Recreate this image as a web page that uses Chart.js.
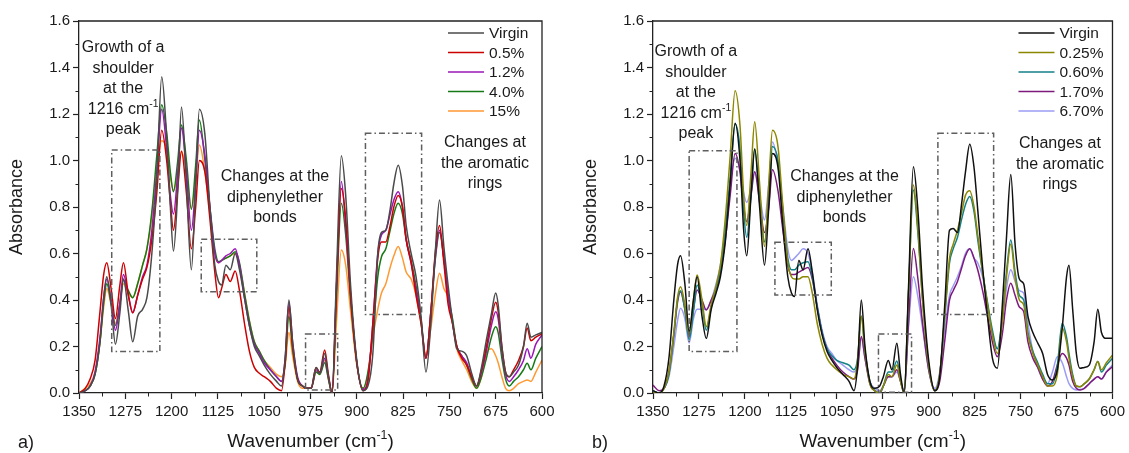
<!DOCTYPE html>
<html>
<head>
<meta charset="utf-8">
<script src="https://cdn.jsdelivr.net/npm/chart.js@4.4.1/dist/chart.umd.min.js"></script>
<style>
    html, body { margin: 0; padding: 0; background: #fff; }
    #wrap { position: relative; width: 1129px; height: 453px; overflow: hidden; }
    canvas { position: absolute; top: 0; }
    #chartA { left: 0; }
    #chartB { left: 565px; }
</style>
</head>
<body>
<div id="wrap">
    <canvas id="chartA" width="565" height="453"></canvas>
    <canvas id="chartB" width="564" height="453"></canvas>
</div>
<script>
// ── Data ──────────────────────────────────────────────────────────────────────
const WAVENUMBERS = [
    1350, 1340, 1332, 1324, 1316, 1310, 1305, 1298, 1291, 1284,
    1278, 1270, 1263, 1255, 1247, 1240, 1232, 1224, 1216, 1208,
    1202, 1197, 1190, 1184, 1176, 1168, 1161, 1155, 1146, 1138,
    1130, 1124, 1119, 1112, 1105, 1097, 1090, 1082, 1074, 1066,
    1058, 1050, 1040, 1030, 1022, 1016, 1010, 1004, 996, 988,
    980, 974, 966, 960, 952, 946, 940, 933, 925, 918,
    910, 900, 890, 882, 874, 866, 860, 853, 846, 840,
    833, 826, 820, 812, 804, 796, 788, 780, 773, 766,
    759, 752, 745, 738, 730, 722, 714, 706, 698, 690,
    682, 675, 671, 665, 659, 653, 646, 638, 630, 624,
    618, 610, 600,
];
const X_TICKS = [1350, 1275, 1200, 1125, 1050, 975, 900, 825, 750, 675, 600];
const Y_TICKS = [0, 0.2, 0.4, 0.6, 0.8, 1.0, 1.2, 1.4, 1.6];

// Panel a)
const A_LABELS = ['Virgin', '0.5%', '1.2%', '4.0%', '15%'];
const A_VIRGIN = [
    0.00, 0.01, 0.03, 0.08, 0.22, 0.41, 0.50, 0.38, 0.21, 0.34,
    0.49, 0.35, 0.22, 0.33, 0.36, 0.41, 0.60, 0.92, 1.36, 1.10,
    0.80, 0.61, 0.87, 1.23, 0.90, 0.53, 0.90, 1.22, 1.11, 0.80,
    0.55, 0.48, 0.465, 0.55, 0.53, 0.60, 0.53, 0.41, 0.29, 0.20,
    0.16, 0.12, 0.08, 0.05, 0.03, 0.15, 0.40, 0.22, 0.06, 0.03,
    0.02, 0.02, 0.11, 0.085, 0.17, 0.07, 0.00, 0.50, 1.02, 0.85,
    0.46, 0.14, 0.01, 0.03, 0.17, 0.60, 0.69, 0.70, 0.79, 0.90,
    0.98, 0.89, 0.72, 0.60, 0.50, 0.33, 0.09, 0.30, 0.60, 0.83,
    0.63, 0.46, 0.31, 0.19, 0.18, 0.16, 0.085, 0.03, 0.11, 0.23,
    0.34, 0.43, 0.38, 0.20, 0.09, 0.07, 0.09, 0.12, 0.20, 0.30,
    0.24, 0.25, 0.26,
];
const A_05 = [
    0.00, 0.02, 0.06, 0.14, 0.35, 0.51, 0.56, 0.45, 0.32, 0.46,
    0.56, 0.42, 0.345, 0.42, 0.49, 0.54, 0.66, 0.86, 1.13, 1.00,
    0.82, 0.70, 0.88, 1.04, 0.86, 0.62, 0.80, 1.00, 0.95, 0.75,
    0.52, 0.41, 0.45, 0.51, 0.48, 0.525, 0.44, 0.30, 0.18, 0.11,
    0.085, 0.07, 0.05, 0.02, 0.01, 0.13, 0.37, 0.20, 0.06, 0.03,
    0.02, 0.02, 0.11, 0.09, 0.185, 0.08, 0.00, 0.45, 0.88, 0.75,
    0.42, 0.13, 0.01, 0.05, 0.30, 0.58, 0.65, 0.65, 0.72, 0.80,
    0.85, 0.80, 0.66, 0.56, 0.42, 0.30, 0.15, 0.35, 0.60, 0.72,
    0.56, 0.38, 0.30, 0.20, 0.15, 0.12, 0.07, 0.03, 0.10, 0.20,
    0.32, 0.39, 0.35, 0.20, 0.09, 0.07, 0.10, 0.14, 0.20, 0.28,
    0.225, 0.24, 0.255,
];
const A_12 = [
    0.00, 0.01, 0.03, 0.09, 0.24, 0.41, 0.49, 0.40, 0.27, 0.38,
    0.51, 0.42, 0.345, 0.42, 0.50, 0.55, 0.70, 0.95, 1.22, 1.05,
    0.85, 0.77, 0.95, 1.14, 0.95, 0.70, 0.90, 1.13, 1.02, 0.80,
    0.60, 0.56, 0.57, 0.59, 0.60, 0.62, 0.55, 0.41, 0.29, 0.21,
    0.17, 0.13, 0.10, 0.07, 0.05, 0.15, 0.39, 0.22, 0.07, 0.03,
    0.02, 0.02, 0.10, 0.085, 0.15, 0.07, 0.00, 0.45, 0.91, 0.72,
    0.42, 0.13, 0.015, 0.06, 0.30, 0.60, 0.68, 0.70, 0.77, 0.83,
    0.866, 0.80, 0.66, 0.56, 0.44, 0.31, 0.15, 0.35, 0.58, 0.70,
    0.58, 0.42, 0.30, 0.20, 0.16, 0.13, 0.07, 0.03, 0.09, 0.18,
    0.29, 0.35, 0.32, 0.18, 0.08, 0.05, 0.07, 0.10, 0.14, 0.19,
    0.15, 0.21, 0.25,
];
const A_40 = [
    0.00, 0.01, 0.03, 0.08, 0.22, 0.39, 0.47, 0.39, 0.29, 0.38,
    0.485, 0.44, 0.41, 0.47, 0.55, 0.62, 0.78, 1.02, 1.24, 1.12,
    0.95, 0.866, 1.00, 1.153, 1.00, 0.79, 0.98, 1.174, 1.00, 0.80,
    0.62, 0.565, 0.57, 0.58, 0.59, 0.608, 0.56, 0.43, 0.31, 0.22,
    0.18, 0.14, 0.10, 0.07, 0.05, 0.13, 0.33, 0.19, 0.06, 0.03,
    0.02, 0.02, 0.09, 0.08, 0.13, 0.06, 0.00, 0.40, 0.816, 0.68,
    0.40, 0.13, 0.02, 0.09, 0.26, 0.50, 0.586, 0.62, 0.70, 0.77,
    0.816, 0.77, 0.66, 0.57, 0.46, 0.32, 0.15, 0.35, 0.57, 0.69,
    0.58, 0.42, 0.32, 0.20, 0.16, 0.12, 0.06, 0.02, 0.07, 0.15,
    0.24, 0.285, 0.26, 0.15, 0.06, 0.03, 0.05, 0.07, 0.10, 0.128,
    0.10, 0.15, 0.20,
];
const A_15 = [
    0.00, 0.02, 0.04, 0.09, 0.22, 0.37, 0.45, 0.38, 0.30, 0.38,
    0.47, 0.43, 0.41, 0.47, 0.55, 0.62, 0.76, 0.96, 1.085, 1.05,
    0.93, 0.87, 0.95, 1.04, 0.95, 0.795, 0.92, 1.067, 0.95, 0.78,
    0.60, 0.56, 0.57, 0.58, 0.59, 0.60, 0.55, 0.43, 0.31, 0.22,
    0.18, 0.14, 0.11, 0.08, 0.07, 0.12, 0.26, 0.16, 0.05, 0.02,
    0.02, 0.02, 0.09, 0.08, 0.14, 0.06, 0.00, 0.30, 0.615, 0.55,
    0.35, 0.12, 0.02, 0.08, 0.24, 0.36, 0.43, 0.47, 0.54, 0.59,
    0.63, 0.58, 0.52, 0.49, 0.42, 0.30, 0.16, 0.28, 0.42, 0.515,
    0.45, 0.41, 0.30, 0.19, 0.14, 0.10, 0.05, 0.02, 0.07, 0.17,
    0.19, 0.16, 0.13, 0.07, 0.02, 0.01, 0.02, 0.04, 0.05, 0.056,
    0.05, 0.09, 0.142,
];

// Panel b)
const B_LABELS = ['Virgin', '0.25%', '0.60%', '1.70%', '6.70%'];
const B_VIRGIN = [
    0.01, 0.00, 0.03, 0.15, 0.40, 0.55, 0.59, 0.47, 0.265, 0.40,
    0.50, 0.33, 0.235, 0.36, 0.43, 0.50, 0.65, 0.90, 1.16, 1.00,
    0.70, 0.59, 0.85, 1.05, 0.80, 0.55, 0.80, 1.03, 0.97, 0.72,
    0.50, 0.43, 0.415, 0.57, 0.53, 0.62, 0.52, 0.36, 0.25, 0.18,
    0.14, 0.11, 0.08, 0.05, 0.01, 0.12, 0.40, 0.20, 0.05, 0.02,
    0.03, 0.07, 0.14, 0.10, 0.214, 0.08, 0.00, 0.45, 0.973, 0.80,
    0.45, 0.14, 0.01, 0.07, 0.37, 0.70, 0.708, 0.69, 0.82, 0.95,
    1.07, 0.97, 0.79, 0.54, 0.33, 0.15, 0.106, 0.37, 0.67, 0.94,
    0.64, 0.49, 0.47, 0.33, 0.26, 0.215, 0.17, 0.08, 0.056, 0.10,
    0.28, 0.50, 0.55, 0.36, 0.17, 0.106, 0.11, 0.12, 0.22, 0.36,
    0.26, 0.235, 0.235,
];
const B_025 = [
    0.00, 0.00, 0.02, 0.09, 0.26, 0.41, 0.457, 0.38, 0.25, 0.40,
    0.507, 0.40, 0.285, 0.38, 0.46, 0.55, 0.75, 1.02, 1.30, 1.15,
    0.85, 0.72, 0.95, 1.167, 0.90, 0.63, 0.90, 1.13, 1.06, 0.80,
    0.56, 0.50, 0.49, 0.49, 0.50, 0.50, 0.43, 0.30, 0.21, 0.15,
    0.12, 0.10, 0.08, 0.07, 0.06, 0.14, 0.33, 0.18, 0.04, 0.01,
    0.00, 0.03, 0.08, 0.07, 0.12, 0.05, 0.00, 0.42, 0.895, 0.72,
    0.40, 0.12, 0.01, 0.08, 0.33, 0.58, 0.64, 0.70, 0.78, 0.85,
    0.87, 0.80, 0.68, 0.52, 0.38, 0.25, 0.17, 0.30, 0.50, 0.64,
    0.50, 0.40, 0.38, 0.25, 0.17, 0.12, 0.07, 0.03, 0.03, 0.08,
    0.28, 0.22, 0.15, 0.07, 0.03, 0.027, 0.04, 0.06, 0.10, 0.135,
    0.10, 0.13, 0.163,
];
const B_060 = [
    0.01, 0.00, 0.02, 0.08, 0.25, 0.40, 0.44, 0.36, 0.23, 0.35,
    0.465, 0.38, 0.27, 0.37, 0.45, 0.53, 0.70, 0.93, 1.157, 1.05,
    0.78, 0.67, 0.85, 1.05, 0.85, 0.65, 0.85, 1.06, 1.00, 0.78,
    0.58, 0.53, 0.53, 0.55, 0.56, 0.565, 0.50, 0.37, 0.26, 0.19,
    0.16, 0.14, 0.13, 0.12, 0.10, 0.15, 0.33, 0.18, 0.05, 0.01,
    0.00, 0.03, 0.09, 0.09, 0.138, 0.06, 0.00, 0.42, 0.873, 0.70,
    0.40, 0.12, 0.01, 0.08, 0.32, 0.56, 0.62, 0.67, 0.75, 0.81,
    0.845, 0.78, 0.66, 0.52, 0.39, 0.27, 0.19, 0.32, 0.52, 0.658,
    0.52, 0.42, 0.40, 0.26, 0.18, 0.13, 0.08, 0.04, 0.04, 0.12,
    0.30, 0.24, 0.17, 0.08, 0.03, 0.027, 0.04, 0.06, 0.10, 0.135,
    0.09, 0.12, 0.15,
];
const B_170 = [
    0.034, 0.01, 0.02, 0.09, 0.25, 0.39, 0.436, 0.36, 0.25, 0.36,
    0.443, 0.40, 0.357, 0.40, 0.45, 0.52, 0.66, 0.85, 1.03, 0.95,
    0.80, 0.737, 0.85, 0.952, 0.82, 0.69, 0.80, 0.96, 0.87, 0.70,
    0.55, 0.51, 0.51, 0.52, 0.53, 0.54, 0.49, 0.37, 0.26, 0.19,
    0.15, 0.12, 0.09, 0.07, 0.06, 0.10, 0.243, 0.15, 0.04, 0.01,
    0.00, 0.03, 0.07, 0.07, 0.10, 0.05, 0.00, 0.30, 0.622, 0.50,
    0.30, 0.10, 0.01, 0.05, 0.22, 0.40, 0.44, 0.48, 0.54, 0.59,
    0.62, 0.58, 0.53, 0.44, 0.33, 0.22, 0.156, 0.25, 0.40, 0.472,
    0.42, 0.37, 0.35, 0.22, 0.15, 0.11, 0.06, 0.03, 0.05, 0.12,
    0.17, 0.15, 0.12, 0.05, 0.02, 0.013, 0.02, 0.04, 0.06, 0.07,
    0.06, 0.09, 0.113,
];
const B_670 = [
    0.01, 0.00, 0.02, 0.07, 0.20, 0.31, 0.364, 0.32, 0.215, 0.32,
    0.36, 0.36, 0.36, 0.40, 0.47, 0.55, 0.70, 0.90, 1.01, 0.96,
    0.86, 0.82, 0.88, 0.952, 0.85, 0.744, 0.90, 1.08, 0.98, 0.80,
    0.62, 0.57, 0.58, 0.60, 0.62, 0.60, 0.52, 0.38, 0.27, 0.20,
    0.17, 0.14, 0.12, 0.10, 0.09, 0.12, 0.24, 0.15, 0.05, 0.02,
    0.01, 0.03, 0.07, 0.07, 0.09, 0.05, 0.01, 0.28, 0.50, 0.42,
    0.28, 0.10, 0.02, 0.09, 0.27, 0.42, 0.46, 0.50, 0.55, 0.60,
    0.62, 0.58, 0.56, 0.50, 0.38, 0.25, 0.19, 0.30, 0.45, 0.53,
    0.48, 0.44, 0.43, 0.30, 0.18, 0.11, 0.06, 0.04, 0.09, 0.156,
    0.13, 0.07, 0.04, 0.02, 0.013, 0.015, 0.02, 0.04, 0.06, 0.07,
    0.06, 0.09, 0.12,
];

// ── Styles & annotations ─────────────────────────────────────────────────────
const FONT = '"Liberation Sans", Arial, sans-serif';
const TEXT = '#1a1a1a';
const AXIS = '#222';
const A_COLORS = ['#4a4a4a', '#cc0000', '#9a16b8', '#157a15', '#ff9933'];
const B_COLORS = ['#111111', '#8c8600', '#138088', '#7e1a7e', '#9b9cf5'];

// dash-dot boxes: [x from, x to, y from, y to] in data units
const A_BOXES = [[1297, 1219, 0.178, 1.045], [1152, 1062, 0.436, 0.661], [983, 931, 0.013, 0.254], [886, 795, 0.338, 1.117]];
const B_BOXES = [[1291, 1213, 0.178, 1.042], [1151, 1059, 0.421, 0.648], [982, 928, 0.003, 0.254], [885, 794, 0.338, 1.117]];

// notes: centre wavenumber, absorbance of first line, lines ('^' marks a superscript part)
const A_NOTES = [
    { x: 1278.5, y: 1.484, lines: [['Growth of a'], ['shoulder'], ['at the'], ['1216 cm', '^-1'], ['peak']] },
    { x: 1032.5, y: 0.929, lines: [['Changes at the'], ['diphenylether'], ['bonds']] },
    { x: 692.3, y: 1.075, lines: [['Changes at'], ['the aromatic'], ['rings']] },
];
const B_NOTES = [
    { x: 1280, y: 1.467, lines: [['Growth of a'], ['shoulder'], ['at the'], ['1216 cm', '^-1'], ['peak']] },
    { x: 1037.4, y: 0.929, lines: [['Changes at the'], ['diphenylether'], ['bonds']] },
    { x: 685.8, y: 1.071, lines: [['Changes at'], ['the aromatic'], ['rings']] },
];

function richText(ctx, parts, cx, cy, size) {
    let total = 0;
    const seg = parts.map(p => {
        const sup = p.startsWith('^');
        const t = sup ? p.slice(1) : p;
        const s = sup ? size * 0.65 : size;
        ctx.font = `${s}px ${FONT}`;
        const w = ctx.measureText(t).width;
        total += w;
        return { t, s, sup, w };
    });
    let xx = cx - total / 2;
    seg.forEach(p => {
        ctx.font = `${p.s}px ${FONT}`;
        ctx.fillText(p.t, xx, p.sup ? cy - size * 0.36 : cy);
        xx += p.w;
    });
}

// Frame, minor ticks, boxes, notes, legend, titles
const decoPlugin = {
    id: 'deco',
    afterDraw(chart, args, opts) {
        const { ctx, chartArea: ca, scales: { x, y } } = chart;
        ctx.save();
        ctx.strokeStyle = AXIS;
        ctx.lineWidth = 1.3;
        ctx.beginPath();
        ctx.moveTo(ca.left, ca.top); ctx.lineTo(ca.right, ca.top); ctx.lineTo(ca.right, ca.bottom);
        ctx.stroke();

        // minor ticks
        ctx.lineWidth = 1;
        ctx.beginPath();
        for (let i = 0; i < X_TICKS.length - 1; i++) {
            const px = Math.round(x.getPixelForValue((X_TICKS[i] + X_TICKS[i + 1]) / 2)) + 0.5;
            ctx.moveTo(px, ca.bottom); ctx.lineTo(px, ca.bottom + 3.5);
        }
        for (let i = 0; i < Y_TICKS.length - 1; i++) {
            const py = Math.round(y.getPixelForValue((Y_TICKS[i] + Y_TICKS[i + 1]) / 2)) + 0.5;
            ctx.moveTo(ca.left, py); ctx.lineTo(ca.left - 3.5, py);
        }
        ctx.stroke();

        // dash-dot boxes
        ctx.strokeStyle = '#5e5e5e';
        ctx.lineWidth = 1.5;
        ctx.setLineDash([6, 3, 1.5, 3]);
        opts.boxes.forEach(b => {
            const x1 = x.getPixelForValue(b[0]), x2 = x.getPixelForValue(b[1]);
            const y1 = y.getPixelForValue(b[3]), y2 = y.getPixelForValue(b[2]);
            ctx.strokeRect(x1, y1, x2 - x1, y2 - y1);
        });
        ctx.setLineDash([]);

        // notes
        ctx.fillStyle = TEXT;
        ctx.textBaseline = 'middle';
        ctx.textAlign = 'left';
        opts.notes.forEach(n => {
            const cx = x.getPixelForValue(n.x);
            const cy = y.getPixelForValue(n.y);
            n.lines.forEach((ln, i) => richText(ctx, ln, cx, cy + i * 20.5, 16));
        });

        // legend (inside plot, top right)
        const datasets = chart.data.datasets;
        datasets.forEach((ds, i) => {
            const ry = ca.top + 12 + i * 19.5;
            ctx.strokeStyle = ds.borderColor;
            ctx.lineWidth = 1.5;
            ctx.beginPath();
            ctx.moveTo(ca.right - 94, ry); ctx.lineTo(ca.right - 58, ry);
            ctx.stroke();
            ctx.font = `15.5px ${FONT}`;
            ctx.fillText(ds.label, ca.right - 53, ry + 1);
        });

        // axis titles
        richText(ctx, ['Wavenumber (cm', '^-1', ')'], (ca.left + ca.right) / 2, ca.bottom + 49, 19);
        ctx.save();
        ctx.translate(ca.left - 62, (ca.top + ca.bottom) / 2);
        ctx.rotate(-Math.PI / 2);
        richText(ctx, ['Absorbance'], 0, 0, 18);
        ctx.restore();

        // panel label
        ctx.font = `18px ${FONT}`;
        ctx.textAlign = 'left';
        ctx.fillText(opts.panel, ca.left - 61, ca.bottom + 50);
        ctx.restore();
    },
};

function makeChart(id, labels, series, colors, deco, yWidth, rightPad) {
    const datasets = series.map((vals, i) => ({
        label: labels[i],
        data: vals.map((v, k) => ({ x: WAVENUMBERS[k], y: v })),
        borderColor: colors[i],
        borderWidth: 1.5,
        pointRadius: 0,
        fill: false,
        cubicInterpolationMode: 'monotone',
    }));
    const tickFont = { family: FONT, size: 15 };
    return new Chart(document.getElementById(id), {
        type: 'line',
        data: { datasets },
        options: {
            responsive: false,
            animation: false,
            devicePixelRatio: 1,
            layout: { padding: { top: 21, right: rightPad, left: 0, bottom: 0 } },
            plugins: { legend: { display: false }, tooltip: { enabled: false }, deco },
            scales: {
                x: {
                    type: 'linear', reverse: true, min: 600, max: 1350,
                    afterBuildTicks: (s) => { s.ticks = X_TICKS.map(v => ({ value: v })); },
                    ticks: { font: tickFont, color: TEXT, padding: 4, maxRotation: 0, autoSkip: false,
                             callback: (v) => String(v) },
                    grid: { drawOnChartArea: false, tickLength: 6, color: AXIS, tickWidth: 1.2 },
                    border: { color: AXIS, width: 1.3 },
                    afterFit: (s) => { s.height = 60; },
                },
                y: {
                    min: 0, max: 1.6,
                    afterBuildTicks: (s) => { s.ticks = Y_TICKS.map(v => ({ value: v })); },
                    ticks: { font: tickFont, color: TEXT, padding: 3, callback: (v) => Number(v).toFixed(1) },
                    grid: { drawOnChartArea: false, tickLength: 6, color: AXIS, tickWidth: 1.2 },
                    border: { color: AXIS, width: 1.3 },
                    afterFit: (s) => { s.width = yWidth; },
                },
            },
        },
        plugins: [decoPlugin],
    });
}

makeChart('chartA', A_LABELS, [A_VIRGIN, A_05, A_12, A_40, A_15], A_COLORS,
    { boxes: A_BOXES, notes: A_NOTES, panel: 'a)' }, 79, 23);
makeChart('chartB', B_LABELS, [B_VIRGIN, B_025, B_060, B_170, B_670], B_COLORS,
    { boxes: B_BOXES, notes: B_NOTES, panel: 'b)' }, 88, 13);
</script>
</body>
</html>
